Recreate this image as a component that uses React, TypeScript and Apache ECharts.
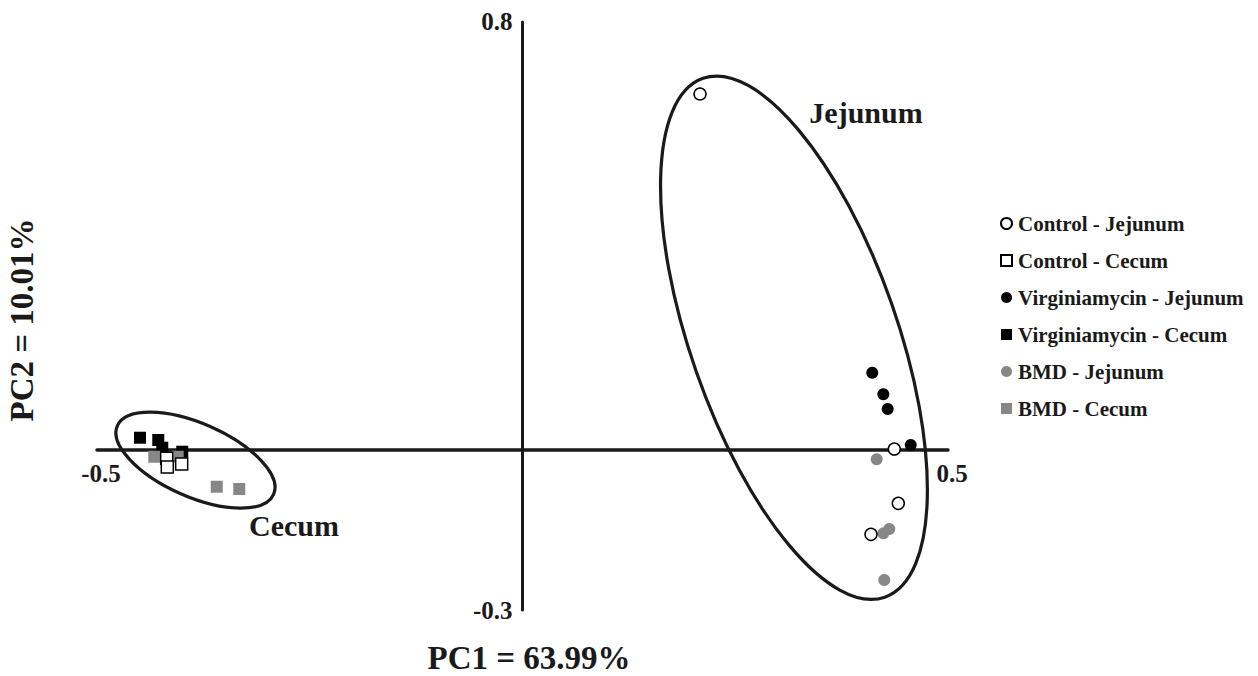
import React, { useEffect, useRef } from "react";
import * as echarts from "echarts";

// ---- Data (PC1, PC2) ----
const controlJejunum: number[][] = [
  [0.2086, 0.6653],
  [0.4369, 0.0011],
  [0.4416, -0.1005],
  [0.4095, -0.1585],
];
const controlCecum: number[][] = [
  [-0.4181, -0.0163],
  [-0.4174, -0.0326],
  [-0.4005, -0.0269],
];
const virginiamycinJejunum: number[][] = [
  [0.411, 0.1439],
  [0.424, 0.1035],
  [0.4291, 0.076],
  [0.4562, 0.0086],
];
const virginiamycinCecum: number[][] = [
  [-0.4495, 0.0223],
  [-0.428, 0.018],
  [-0.4233, 0.0036],
  [-0.3998, -0.0039],
];
const bmdJejunum: number[][] = [
  [0.4162, -0.0181],
  [0.424, -0.1566],
  [0.431, -0.1486],
  [0.4251, -0.244],
];
const bmdCecum: number[][] = [
  [-0.4327, -0.0133],
  [-0.4052, -0.0133],
  [-0.3593, -0.0694],
  [-0.3328, -0.0737],
];

const legendNames = [
  "Control - Jejunum",
  "Control - Cecum",
  "Virginiamycin - Jejunum",
  "Virginiamycin - Cecum",
  "BMD - Jejunum",
  "BMD - Cecum",
];

// tick labels shown at the ends of the axes
const xTickValues = [-0.5, 0.5];
const xTickLabels = ["-0.5", "0.5"];
const yTickValues = [0.8, -0.3];
const yTickLabels = ["0.8", "-0.3"];

const xAxisTitle = "PC1 = 63.99%";
const yAxisTitle = "PC2 = 10.01%";

// cluster ellipse centres (data coords) and labels
const clusterNames = ["Jejunum", "Cecum"];
const clusterCenters: number[][] = [
  [0.319, 0.2093],
  [-0.3843, -0.0195],
];

// ellipse geometry in pixels (styling/shape)
const ellipseShapes = [
  { rx: 103.4, ry: 274.8, rot: (19.3 * Math.PI) / 180 },
  { rx: 85.3, ry: 36.7, rot: (-23.7 * Math.PI) / 180 },
];

const FONT = '"Liberation Serif", "Times New Roman", serif';
const INK = "#1a1a1a";
const GRAY = "#878787";

export default function App() {
  const ref = useRef<HTMLDivElement>(null);

  useEffect(() => {
    if (!ref.current) return;
    const chart = echarts.init(ref.current, undefined, { renderer: "svg" });

    const scatter = (
      name: string,
      data: number[][],
      symbol: string,
      fill: string,
      border: string,
      bw: number,
      size: number
    ) => ({
      type: "scatter",
      name,
      data,
      symbol,
      symbolSize: size,
      itemStyle: { color: fill, borderColor: border, borderWidth: bw, opacity: 1 },
      emphasis: { disabled: true },
      z: 5,
    });

    const option: any = {
      animation: false,
      backgroundColor: "#ffffff",
      textStyle: { fontFamily: FONT },
      grid: { left: 97, right: 310, top: 22, bottom: 66, containLabel: false },
      xAxis: {
        type: "value",
        min: -0.5,
        max: 0.5,
        interval: 0.5,
        axisLine: { onZero: true, lineStyle: { color: INK, width: 3.5 } },
        axisTick: { show: false },
        splitLine: { show: false },
        axisLabel: { show: false },
      },
      yAxis: {
        type: "value",
        min: -0.3,
        max: 0.8,
        interval: 0.1,
        axisLine: { onZero: true, lineStyle: { color: INK, width: 3 } },
        axisTick: { show: false },
        splitLine: { show: false },
        axisLabel: { show: false },
      },
      legend: {
        data: legendNames,
        orient: "vertical",
        left: 995,
        top: 208,
        itemWidth: 11,
        itemHeight: 11,
        itemGap: 16,
        selectedMode: false,
        textStyle: {
          fontFamily: FONT,
          fontWeight: "bold",
          fontSize: 21,
          color: INK,
          lineHeight: 21,
          padding: [0, 0, 0, 1],
        },
      },
      series: [
        {
          type: "custom",
          name: "clusters",
          coordinateSystem: "cartesian2d",
          data: clusterCenters.map((c, i) => [c[0], c[1], i]),
          silent: true,
          z: 3,
          renderItem: (_params: any, api: any) => {
            const c = api.coord([api.value(0), api.value(1)]);
            const s = ellipseShapes[api.value(2)];
            return {
              type: "ellipse",
              x: c[0],
              y: c[1],
              rotation: s.rot,
              shape: { cx: 0, cy: 0, rx: s.rx, ry: s.ry },
              style: { fill: "none", stroke: INK, lineWidth: 3.2 },
            };
          },
        },
        scatter(legendNames[2], virginiamycinJejunum, "circle", "#000000", "#000000", 0, 12),
        scatter(legendNames[3], virginiamycinCecum, "rect", "#000000", "#000000", 0, 12),
        scatter(legendNames[4], bmdJejunum, "circle", GRAY, GRAY, 0, 12),
        scatter(legendNames[5], bmdCecum, "rect", GRAY, GRAY, 0, 12),
        scatter(legendNames[0], controlJejunum, "circle", "#ffffff", "#000000", 1.5, 12),
        scatter(legendNames[1], controlCecum, "rect", "#ffffff", "#000000", 1.5, 12),
      ],
    };

    chart.setOption(option);

    // tick labels placed at axis ends through the chart's own scales
    const toPx = (v: number[]) => chart.convertToPixel({ gridIndex: 0 }, v) as number[];
    const tickFont = `bold 25px ${FONT}`;
    const graphics: any[] = [];
    xTickValues.forEach((v, i) => {
      const p = toPx([v, 0]);
      graphics.push({
        type: "text",
        x: p[0] + 4,
        y: p[1] + 24,
        style: {
          text: xTickLabels[i],
          font: tickFont,
          fill: INK,
          textAlign: "center",
          textVerticalAlign: "middle",
        },
      });
    });
    yTickValues.forEach((v, i) => {
      const p = toPx([0, v]);
      graphics.push({
        type: "text",
        x: p[0] - 10,
        y: p[1] - (v > 0 ? 1 : 0),
        style: {
          text: yTickLabels[i],
          font: tickFont,
          fill: INK,
          textAlign: "right",
          textVerticalAlign: "middle",
        },
      });
    });
    graphics.push(
      {
        type: "text",
        x: 529,
        y: 658,
        style: {
          text: xAxisTitle,
          font: `bold 33px ${FONT}`,
          fill: INK,
          textAlign: "center",
          textVerticalAlign: "middle",
        },
      },
      {
        type: "text",
        x: 22,
        y: 320,
        rotation: Math.PI / 2,
        style: {
          text: yAxisTitle,
          font: `bold 33px ${FONT}`,
          fill: INK,
          textAlign: "center",
          textVerticalAlign: "middle",
        },
      }
    );
    clusterNames.forEach((name, i) => {
      const pos = i === 0 ? [866, 112] : [294, 525];
      graphics.push({
        type: "text",
        x: pos[0],
        y: pos[1],
        style: {
          text: name,
          font: `bold 30px ${FONT}`,
          fill: INK,
          textAlign: "center",
          textVerticalAlign: "middle",
        },
      });
    });
    chart.setOption({ graphic: graphics });

    return () => chart.dispose();
  }, []);

  return (
    <div
      ref={ref}
      style={{ position: "fixed", left: 0, top: 0, width: 1258, height: 676, background: "#fff" }}
    />
  );
}
